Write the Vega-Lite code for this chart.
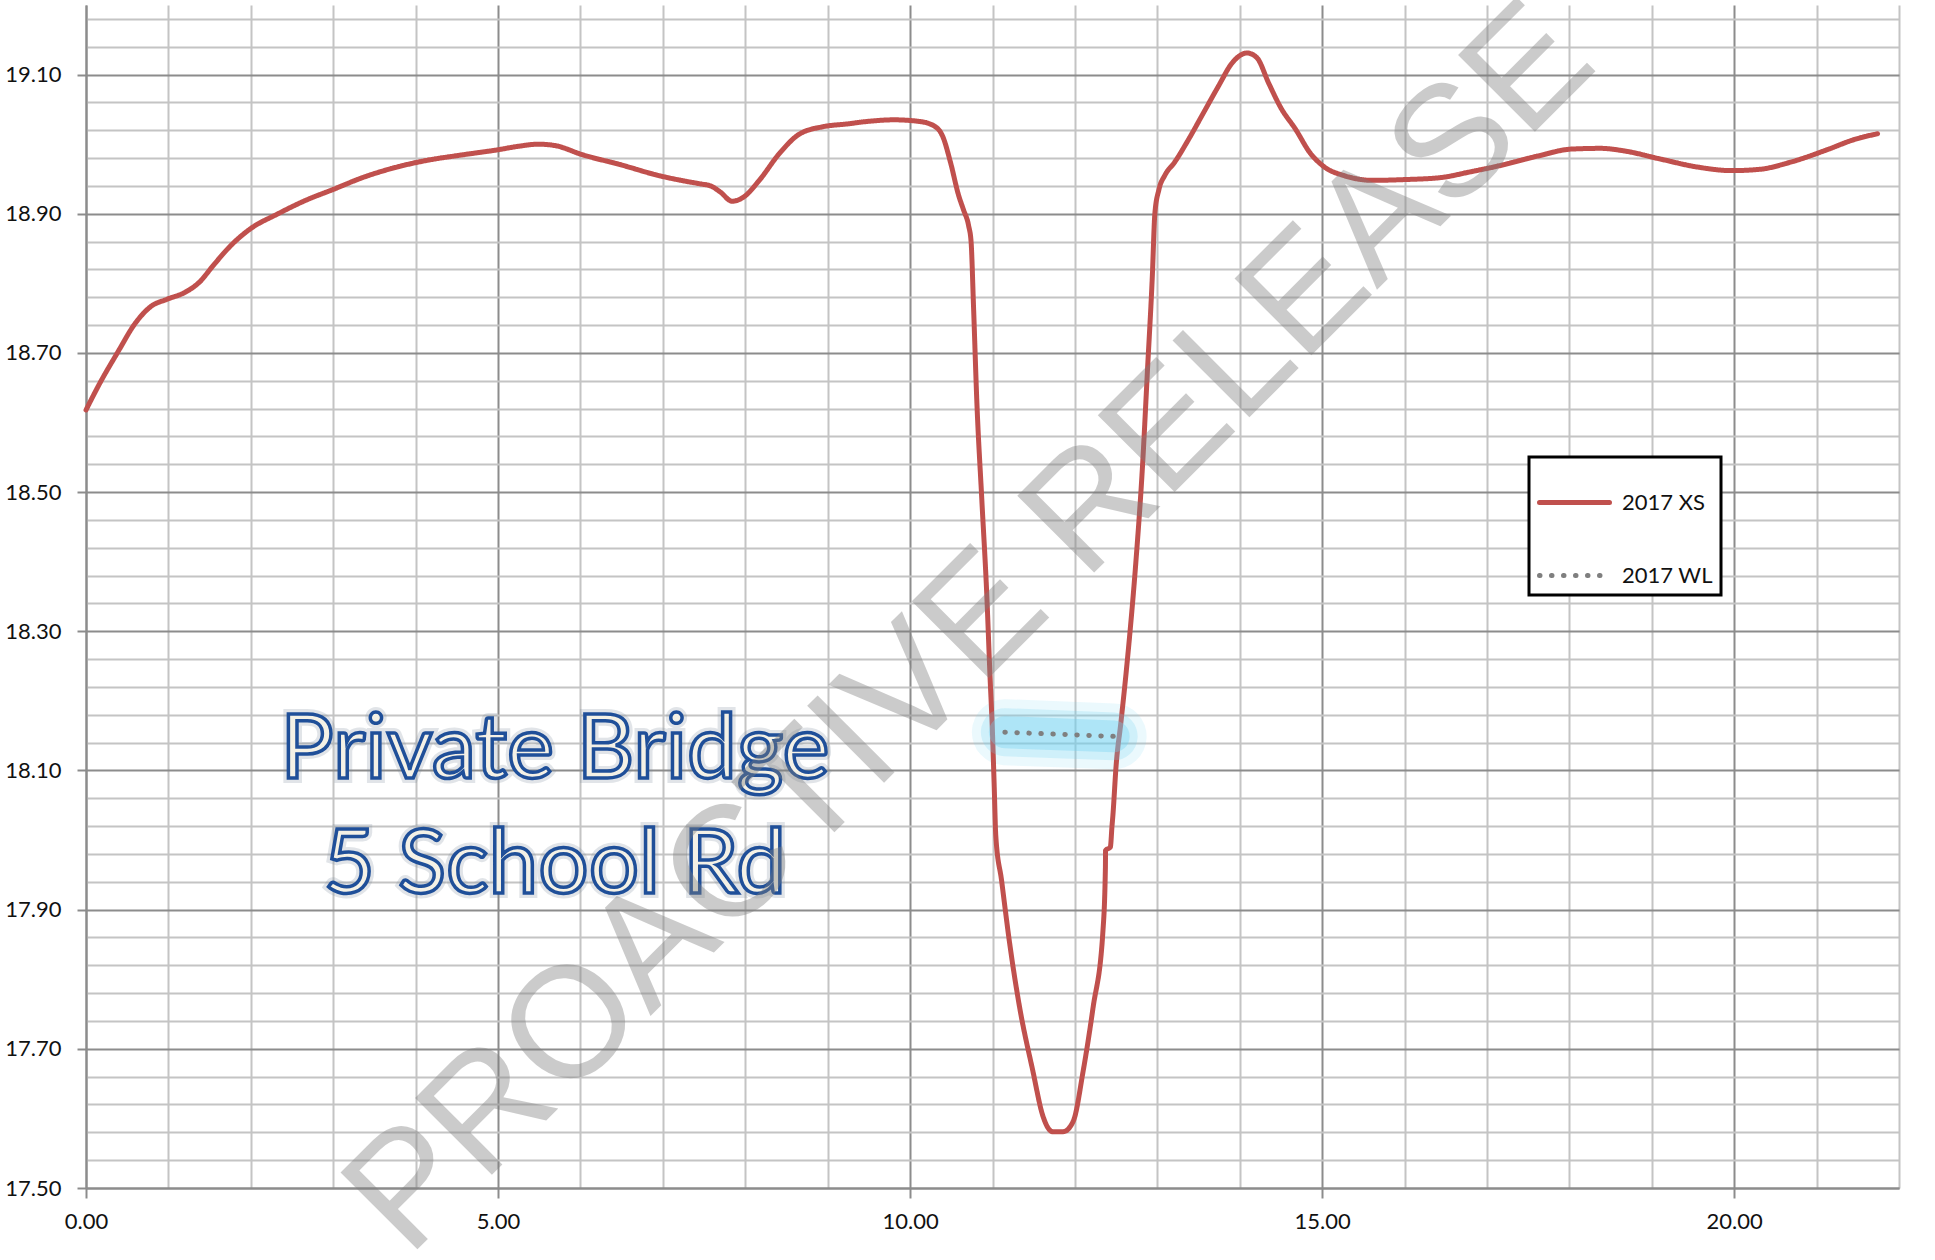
{
  "$schema": "https://vega.github.io/schema/vega-lite/v6.json",
  "width": 1813,
  "height": 1183,
  "autosize": {"type": "none"},
  "padding": {"left": 86, "top": 5, "right": 36, "bottom": 72},
  "background": "#ffffff",
  "config": {"view": {"stroke": null}, "font": "Lato"},
  "datasets": {
    "xs": [
      {"x": 0, "y": 18.618, "series": "2017 XS"},
      {"x": 0.17, "y": 18.657, "series": "2017 XS"},
      {"x": 0.38, "y": 18.7, "series": "2017 XS"},
      {"x": 0.6, "y": 18.743, "series": "2017 XS"},
      {"x": 0.79, "y": 18.767, "series": "2017 XS"},
      {"x": 0.98, "y": 18.777, "series": "2017 XS"},
      {"x": 1.2, "y": 18.787, "series": "2017 XS"},
      {"x": 1.37, "y": 18.801, "series": "2017 XS"},
      {"x": 1.56, "y": 18.828, "series": "2017 XS"},
      {"x": 1.78, "y": 18.857, "series": "2017 XS"},
      {"x": 1.99, "y": 18.878, "series": "2017 XS"},
      {"x": 2.33, "y": 18.9, "series": "2017 XS"},
      {"x": 2.66, "y": 18.919, "series": "2017 XS"},
      {"x": 3.0, "y": 18.935, "series": "2017 XS"},
      {"x": 3.38, "y": 18.953, "series": "2017 XS"},
      {"x": 3.77, "y": 18.967, "series": "2017 XS"},
      {"x": 4.15, "y": 18.977, "series": "2017 XS"},
      {"x": 4.53, "y": 18.984, "series": "2017 XS"},
      {"x": 5.0, "y": 18.992, "series": "2017 XS"},
      {"x": 5.25, "y": 18.997, "series": "2017 XS"},
      {"x": 5.49, "y": 19.0, "series": "2017 XS"},
      {"x": 5.69, "y": 18.998, "series": "2017 XS"},
      {"x": 6.02, "y": 18.985, "series": "2017 XS"},
      {"x": 6.5, "y": 18.97, "series": "2017 XS"},
      {"x": 6.98, "y": 18.954, "series": "2017 XS"},
      {"x": 7.22, "y": 18.948, "series": "2017 XS"},
      {"x": 7.45, "y": 18.943, "series": "2017 XS"},
      {"x": 7.58, "y": 18.94, "series": "2017 XS"},
      {"x": 7.7, "y": 18.931, "series": "2017 XS"},
      {"x": 7.84, "y": 18.918, "series": "2017 XS"},
      {"x": 7.98, "y": 18.924, "series": "2017 XS"},
      {"x": 8.17, "y": 18.948, "series": "2017 XS"},
      {"x": 8.41, "y": 18.986, "series": "2017 XS"},
      {"x": 8.65, "y": 19.014, "series": "2017 XS"},
      {"x": 8.94, "y": 19.025, "series": "2017 XS"},
      {"x": 9.23, "y": 19.029, "series": "2017 XS"},
      {"x": 9.51, "y": 19.033, "series": "2017 XS"},
      {"x": 9.8, "y": 19.035, "series": "2017 XS"},
      {"x": 10.09, "y": 19.033, "series": "2017 XS"},
      {"x": 10.28, "y": 19.027, "series": "2017 XS"},
      {"x": 10.4, "y": 19.01, "series": "2017 XS"},
      {"x": 10.49, "y": 18.974, "series": "2017 XS"},
      {"x": 10.59, "y": 18.926, "series": "2017 XS"},
      {"x": 10.65, "y": 18.905, "series": "2017 XS"},
      {"x": 10.71, "y": 18.883, "series": "2017 XS"},
      {"x": 10.74, "y": 18.86, "series": "2017 XS"},
      {"x": 10.77, "y": 18.766, "series": "2017 XS"},
      {"x": 10.81, "y": 18.63, "series": "2017 XS"},
      {"x": 10.87, "y": 18.49, "series": "2017 XS"},
      {"x": 10.93, "y": 18.354, "series": "2017 XS"},
      {"x": 10.97, "y": 18.235, "series": "2017 XS"},
      {"x": 11.0, "y": 18.153, "series": "2017 XS"},
      {"x": 11.02, "y": 18.08, "series": "2017 XS"},
      {"x": 11.04, "y": 18.006, "series": "2017 XS"},
      {"x": 11.11, "y": 17.942, "series": "2017 XS"},
      {"x": 11.21, "y": 17.85, "series": "2017 XS"},
      {"x": 11.33, "y": 17.759, "series": "2017 XS"},
      {"x": 11.49, "y": 17.668, "series": "2017 XS"},
      {"x": 11.61, "y": 17.604, "series": "2017 XS"},
      {"x": 11.73, "y": 17.581, "series": "2017 XS"},
      {"x": 11.86, "y": 17.581, "series": "2017 XS"},
      {"x": 11.98, "y": 17.596, "series": "2017 XS"},
      {"x": 12.1, "y": 17.668, "series": "2017 XS"},
      {"x": 12.22, "y": 17.759, "series": "2017 XS"},
      {"x": 12.34, "y": 17.869, "series": "2017 XS"},
      {"x": 12.37, "y": 17.96, "series": "2017 XS"},
      {"x": 12.372, "y": 17.985, "series": "2017 XS"},
      {"x": 12.43, "y": 17.99, "series": "2017 XS"},
      {"x": 12.45, "y": 18.02, "series": "2017 XS"},
      {"x": 12.46, "y": 18.034, "series": "2017 XS"},
      {"x": 12.5, "y": 18.107, "series": "2017 XS"},
      {"x": 12.56, "y": 18.171, "series": "2017 XS"},
      {"x": 12.64, "y": 18.263, "series": "2017 XS"},
      {"x": 12.74, "y": 18.4, "series": "2017 XS"},
      {"x": 12.82, "y": 18.537, "series": "2017 XS"},
      {"x": 12.88, "y": 18.674, "series": "2017 XS"},
      {"x": 12.94, "y": 18.812, "series": "2017 XS"},
      {"x": 12.97, "y": 18.9, "series": "2017 XS"},
      {"x": 13.02, "y": 18.935, "series": "2017 XS"},
      {"x": 13.09, "y": 18.955, "series": "2017 XS"},
      {"x": 13.21, "y": 18.974, "series": "2017 XS"},
      {"x": 13.38, "y": 19.007, "series": "2017 XS"},
      {"x": 13.56, "y": 19.045, "series": "2017 XS"},
      {"x": 13.74, "y": 19.083, "series": "2017 XS"},
      {"x": 13.91, "y": 19.117, "series": "2017 XS"},
      {"x": 14.09, "y": 19.131, "series": "2017 XS"},
      {"x": 14.21, "y": 19.124, "series": "2017 XS"},
      {"x": 14.35, "y": 19.088, "series": "2017 XS"},
      {"x": 14.5, "y": 19.052, "series": "2017 XS"},
      {"x": 14.68, "y": 19.021, "series": "2017 XS"},
      {"x": 14.85, "y": 18.988, "series": "2017 XS"},
      {"x": 15.03, "y": 18.967, "series": "2017 XS"},
      {"x": 15.26, "y": 18.955, "series": "2017 XS"},
      {"x": 15.62, "y": 18.948, "series": "2017 XS"},
      {"x": 15.97, "y": 18.949, "series": "2017 XS"},
      {"x": 16.44, "y": 18.952, "series": "2017 XS"},
      {"x": 16.79, "y": 18.96, "series": "2017 XS"},
      {"x": 17.15, "y": 18.969, "series": "2017 XS"},
      {"x": 17.62, "y": 18.983, "series": "2017 XS"},
      {"x": 18.03, "y": 18.993, "series": "2017 XS"},
      {"x": 18.38, "y": 18.994, "series": "2017 XS"},
      {"x": 18.68, "y": 18.99, "series": "2017 XS"},
      {"x": 19.09, "y": 18.979, "series": "2017 XS"},
      {"x": 19.56, "y": 18.967, "series": "2017 XS"},
      {"x": 19.97, "y": 18.962, "series": "2017 XS"},
      {"x": 20.32, "y": 18.964, "series": "2017 XS"},
      {"x": 20.68, "y": 18.974, "series": "2017 XS"},
      {"x": 21.15, "y": 18.993, "series": "2017 XS"},
      {"x": 21.44, "y": 19.006, "series": "2017 XS"},
      {"x": 21.74, "y": 19.015, "series": "2017 XS"}
    ],
    "wl": [
      {"x": 11.15, "y": 18.155, "series": "2017 WL"},
      {"x": 12.47, "y": 18.149, "series": "2017 WL"}
    ],
    "notes": [
      {"label": "Private Bridge", "x": 5.69, "y": 18.089},
      {"label": "5 School Rd", "x": 5.69, "y": 17.924}
    ],
    "stamp": [
      {"label": "PROACTIVE RELEASE", "x": 10.74, "y": 18.303}
    ]
  },
  "resolve": {"axis": {"x": "independent", "y": "independent"}},
  "layer": [
    {
      "data": {"name": "wl"},
      "mark": {"type": "line", "strokeWidth": 66, "strokeCap": "round", "color": "#6fd2f0", "opacity": 0.14},
      "encoding": {
        "x": {"field": "x", "type": "quantitative", "scale": {"domain": [0, 22], "nice": false, "zero": false},
          "axis": {"orient": "bottom", "values": [1,2,3,4,6,7,8,9,11,12,13,14,16,17,18,19,21,22], "labels": false, "ticks": false, "domain": false, "grid": true, "gridColor": "#c4c4c4", "gridWidth": 2, "title": null}},
        "y": {"field": "y", "type": "quantitative", "scale": {"domain": [17.5, 19.2], "nice": false, "zero": false},
          "axis": {"orient": "left", "values": [17.54,17.58,17.62,17.66,17.74,17.78,17.82,17.86,17.94,17.98,18.02,18.06,18.14,18.18,18.22,18.26,18.34,18.38,18.42,18.46,18.54,18.58,18.62,18.66,18.74,18.78,18.82,18.86,18.94,18.98,19.02,19.06,19.14,19.18], "labels": false, "ticks": false, "domain": false, "grid": true, "gridColor": "#c4c4c4", "gridWidth": 2, "title": null}}
      }
    },
    {
      "data": {"name": "xs"},
      "mark": {"type": "line", "strokeWidth": 5, "strokeCap": "round", "strokeJoin": "round", "interpolate": "monotone"},
      "encoding": {
        "x": {"field": "x", "type": "quantitative",
          "axis": {"orient": "bottom", "values": [0, 5, 10, 15, 20], "format": ".2f", "labelFlush": false, "grid": true, "gridColor": "#8c8c8c", "gridWidth": 2, "domainColor": "#8c8c8c", "domainWidth": 2, "tickColor": "#8c8c8c", "tickWidth": 2, "tickSize": 10, "labelFontSize": 22, "labelFont": "Lato", "labelColor": "#111111", "labelPadding": 13, "title": null}},
        "y": {"field": "y", "type": "quantitative",
          "axis": {"orient": "left", "values": [17.5, 17.7, 17.9, 18.1, 18.3, 18.5, 18.7, 18.9, 19.1], "format": ".2f", "labelFlush": false, "grid": true, "gridColor": "#8c8c8c", "gridWidth": 2, "domainColor": "#8c8c8c", "domainWidth": 2, "tickColor": "#8c8c8c", "tickWidth": 2, "tickSize": 9, "labelFontSize": 22, "labelFont": "Lato", "labelColor": "#111111", "labelPadding": 16, "title": null}},
        "color": {"field": "series", "type": "nominal",
          "scale": {"domain": ["2017 XS", "2017 WL"], "range": ["#c0504d", "#7f7f7f"]},
          "legend": {"orient": "none", "legendX": 1443, "legendY": 452, "title": null, "padding": 8, "strokeColor": "#000000", "fillColor": "#ffffff", "symbolType": "stroke", "symbolSize": 4900, "symbolStrokeWidth": 5, "labelFontSize": 22, "labelFont": "Lato", "labelColor": "#111111", "rowPadding": 24, "labelOffset": 10,
            "encode": {"legend": {"update": {"strokeWidth": {"value": 3}}}, "symbols": {"update": {"strokeCap": {"value": "round"}}}}}},
        "strokeDash": {"field": "series", "type": "nominal",
          "scale": {"domain": ["2017 XS", "2017 WL"], "range": [[1, 0], [0.5, 11.5]]}}
      }
    },
    {
      "data": {"name": "wl"},
      "mark": {"type": "line", "strokeWidth": 48, "strokeCap": "round", "color": "#6fd2f0", "opacity": 0.22},
      "encoding": {
        "x": {"field": "x", "type": "quantitative", "axis": null},
        "y": {"field": "y", "type": "quantitative", "axis": null}
      }
    },
    {
      "data": {"name": "wl"},
      "mark": {"type": "line", "strokeWidth": 32, "strokeCap": "round", "color": "#6fd2f0", "opacity": 0.35},
      "encoding": {
        "x": {"field": "x", "type": "quantitative", "axis": null},
        "y": {"field": "y", "type": "quantitative", "axis": null}
      }
    },
    {
      "data": {"name": "wl"},
      "mark": {"type": "line", "strokeWidth": 5, "strokeCap": "round"},
      "encoding": {
        "x": {"field": "x", "type": "quantitative", "axis": null},
        "y": {"field": "y", "type": "quantitative", "axis": null},
        "color": {"field": "series", "type": "nominal"},
        "strokeDash": {"field": "series", "type": "nominal"}
      }
    },
    {
      "data": {"name": "notes"},
      "mark": {"type": "text", "font": "Lato", "fontSize": 89, "align": "center", "baseline": "alphabetic", "fill": "#f4f1e6", "stroke": "#7a8a9a", "strokeWidth": 10, "opacity": 0.22},
      "encoding": {
        "x": {"field": "x", "type": "quantitative", "axis": null},
        "y": {"field": "y", "type": "quantitative", "axis": null},
        "text": {"field": "label"}
      }
    },
    {
      "data": {"name": "notes"},
      "mark": {"type": "text", "font": "Lato", "fontSize": 89, "align": "center", "baseline": "alphabetic", "fill": "#f4f1e6", "stroke": "#1f4f99", "strokeWidth": 3.5},
      "encoding": {
        "x": {"field": "x", "type": "quantitative", "axis": null},
        "y": {"field": "y", "type": "quantitative", "axis": null},
        "text": {"field": "label"}
      }
    },
    {
      "data": {"name": "stamp"},
      "mark": {"type": "text", "font": "Liberation Sans", "fontSize": 158, "angle": 315, "align": "center", "baseline": "middle", "fill": "#7f7f7f", "opacity": 0.4},
      "encoding": {
        "x": {"field": "x", "type": "quantitative", "axis": null},
        "y": {"field": "y", "type": "quantitative", "axis": null},
        "text": {"field": "label"}
      }
    }
  ]
}
